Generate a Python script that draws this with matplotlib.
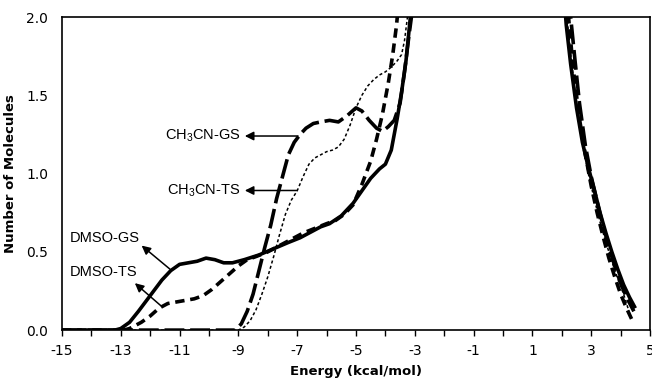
import numpy as np
import matplotlib
matplotlib.use("Agg")
import matplotlib.pyplot as plt

plt.rcParams['mathtext.fontset'] = 'custom'
plt.rcParams['mathtext.rm'] = 'Liberation Sans'

# ---- data ----
dmso_gs_left_x = [-15, -13.2, -13.0, -12.7, -12.4, -12.0, -11.6, -11.3, -11.0, -10.7, -10.4, -10.1,
                  -9.8, -9.5, -9.2, -8.8, -8.3, -7.8, -7.3, -6.9, -6.5, -6.2, -5.9, -5.5, -5.1,
                  -4.8, -4.5, -4.2, -4.0, -3.8, -3.6, -3.45, -3.3, -3.15, -3.05]
dmso_gs_left_y = [0, 0, 0.01, 0.05, 0.12, 0.22, 0.32, 0.38, 0.42, 0.43, 0.44, 0.46,
                  0.45, 0.43, 0.43, 0.45, 0.48, 0.52, 0.56, 0.59, 0.63, 0.66, 0.68, 0.73, 0.81,
                  0.89, 0.97, 1.03, 1.06, 1.15, 1.35, 1.52, 1.72, 2.0, 2.2]
dmso_gs_right_x = [2.05, 2.15, 2.3, 2.5, 2.7, 2.9, 3.1, 3.3, 3.5, 3.7, 3.9, 4.1, 4.3, 4.5]
dmso_gs_right_y = [2.2, 1.95, 1.7, 1.42, 1.2, 1.04, 0.9, 0.75, 0.62, 0.5, 0.39, 0.29, 0.21, 0.14]

ch3cn_gs_left_x = [-15, -9.1, -8.9, -8.7, -8.5, -8.3, -8.1, -7.9, -7.7, -7.5, -7.3, -7.1, -6.9, -6.7,
                   -6.45, -6.2, -5.9, -5.6, -5.3, -5.0, -4.8, -4.55, -4.3, -4.1, -3.9, -3.7, -3.5,
                   -3.35, -3.2, -3.08, -3.0]
ch3cn_gs_left_y = [0, 0, 0.04, 0.12, 0.23, 0.38, 0.53, 0.67, 0.84, 0.98, 1.12, 1.2, 1.25, 1.29,
                   1.32, 1.33, 1.34, 1.33, 1.37, 1.42, 1.40, 1.34, 1.29, 1.27, 1.30, 1.34, 1.45,
                   1.65, 1.88, 2.05, 2.2]
ch3cn_gs_right_x = [2.2, 2.3, 2.45, 2.6, 2.8, 3.0, 3.2, 3.4, 3.6, 3.8, 4.0, 4.2, 4.45]
ch3cn_gs_right_y = [2.2, 2.0, 1.72, 1.45, 1.18, 0.98, 0.82, 0.67, 0.53, 0.41, 0.30, 0.21, 0.12]

dmso_ts_left_x = [-15, -12.9, -12.7, -12.5, -12.3, -12.0, -11.7, -11.4, -11.1, -10.8, -10.5, -10.2,
                  -9.9, -9.6, -9.3, -9.0, -8.7, -8.4, -8.0, -7.6, -7.2, -6.8, -6.4, -6.0, -5.7,
                  -5.4, -5.1, -4.8, -4.5, -4.3, -4.1, -3.9, -3.75, -3.62, -3.5]
dmso_ts_left_y = [0, 0, 0.01, 0.03, 0.05, 0.09, 0.14, 0.17, 0.18, 0.19, 0.20, 0.22,
                  0.26, 0.31, 0.36, 0.41, 0.45, 0.47, 0.50, 0.54, 0.58, 0.62, 0.65, 0.68, 0.70,
                  0.74, 0.80, 0.93, 1.08, 1.22, 1.38, 1.58, 1.76, 1.95, 2.2]
dmso_ts_right_x = [2.15, 2.25, 2.4, 2.6, 2.8, 3.0, 3.2, 3.4, 3.6, 3.8, 4.0, 4.2, 4.4]
dmso_ts_right_y = [2.2, 1.95, 1.65, 1.35, 1.12, 0.92, 0.75, 0.60, 0.46, 0.34, 0.23, 0.14, 0.06]

ch3cn_ts_left_x = [-15, -9.0, -8.8, -8.6, -8.4, -8.2, -8.0, -7.8, -7.6, -7.4, -7.2, -7.0, -6.8,
                   -6.6, -6.4, -6.2, -6.0, -5.8, -5.6, -5.4, -5.2, -5.0, -4.8, -4.6, -4.4, -4.2,
                   -4.0, -3.8, -3.6, -3.45, -3.35, -3.25, -3.15]
ch3cn_ts_left_y = [0, 0, 0.02, 0.06, 0.13, 0.23, 0.34, 0.47, 0.61, 0.74, 0.83, 0.89, 0.98,
                   1.06, 1.10, 1.12, 1.14, 1.15, 1.17, 1.22, 1.31, 1.42, 1.50, 1.56, 1.60, 1.63,
                   1.65, 1.68, 1.72, 1.76, 1.85, 2.0, 2.2]
ch3cn_ts_right_x = [2.1, 2.2, 2.35, 2.5, 2.7, 2.9, 3.1, 3.3, 3.5, 3.7, 3.9, 4.1, 4.35]
ch3cn_ts_right_y = [2.2, 1.95, 1.68, 1.45, 1.2, 1.0, 0.84, 0.69, 0.56, 0.44, 0.33, 0.23, 0.08]

x_ticks = [-15, -13, -11, -9, -7, -5, -3, -1, 1, 3, 5]
y_ticks = [0.0, 0.5, 1.0, 1.5, 2.0]

# ---- figure ----
fig = plt.figure(figsize=(6.52, 3.79), dpi=100)
ax = fig.add_axes([0.095, 0.129, 0.902, 0.826])

def draw(xl, yl, xr, yr, **kw):
    ax.plot(xl, yl, **kw)
    ax.plot(xr, yr, **kw)

draw(dmso_gs_left_x, dmso_gs_left_y, dmso_gs_right_x, dmso_gs_right_y,
     color='black', lw=2.6, ls='-', solid_capstyle='butt')
draw(ch3cn_gs_left_x, ch3cn_gs_left_y, ch3cn_gs_right_x, ch3cn_gs_right_y,
     color='black', lw=2.6, ls=(0, (5.5, 1.6)), dash_capstyle='butt')
draw(dmso_ts_left_x, dmso_ts_left_y, dmso_ts_right_x, dmso_ts_right_y,
     color='black', lw=2.6, ls=(0, (2.6, 1.6)), dash_capstyle='butt')
draw(ch3cn_ts_left_x, ch3cn_ts_left_y, ch3cn_ts_right_x, ch3cn_ts_right_y,
     color='black', lw=1.1, ls=(0, (2.0, 1.6)), dash_capstyle='butt')

ax.set_xlim(-15, 5)
ax.set_ylim(0, 2)
ax.set_xticks(x_ticks)
ax.set_xticks(np.arange(-15, 6, 1), minor=True)
ax.set_yticks(y_ticks)
ax.set_xticklabels([str(t) for t in x_ticks], fontsize=10, family='DejaVu Sans')
ax.set_yticklabels([f"{t:.1f}" for t in y_ticks], fontsize=10, family='DejaVu Sans')
ax.tick_params(axis='x', which='both', direction='out', length=4, width=1, pad=6)
ax.tick_params(axis='y', which='both', length=0, pad=10)
for s in ax.spines.values():
    s.set_linewidth(1.2)

ax.set_xlabel('Energy (kcal/mol)', fontsize=9.5, fontweight='bold', labelpad=5)
ax.set_ylabel('Number of Molecules', fontsize=9.5, fontweight='bold')
ax.yaxis.set_label_coords(-0.077, 0.5)

arrow_kw = dict(arrowstyle='-|>', color='black', lw=1.1, mutation_scale=13,
                shrinkA=0, shrinkB=0)
tfont = dict(fontsize=10.5, family='Liberation Sans')

# CH3CN-GS
ax.annotate('', xy=(-8.78, 1.24), xytext=(-6.97, 1.24), arrowprops=arrow_kw)
ax.text(-8.93, 1.24, r'CH$_\mathregular{3}$CN-GS', ha='right', va='center', **tfont)
# CH3CN-TS
ax.annotate('', xy=(-8.78, 0.892), xytext=(-7.0, 0.892), arrowprops=arrow_kw)
ax.text(-8.93, 0.892, r'CH$_\mathregular{3}$CN-TS', ha='right', va='center', **tfont)
# DMSO-GS
ax.annotate('', xy=(-12.29, 0.54), xytext=(-11.33, 0.39), arrowprops=arrow_kw)
ax.text(-14.73, 0.59, 'DMSO-GS', ha='left', va='center', **tfont)
# DMSO-TS
ax.annotate('', xy=(-12.52, 0.30), xytext=(-11.6, 0.15), arrowprops=arrow_kw)
ax.text(-14.73, 0.37, 'DMSO-TS', ha='left', va='center', **tfont)

fig.savefig('out.png', dpi=100)
